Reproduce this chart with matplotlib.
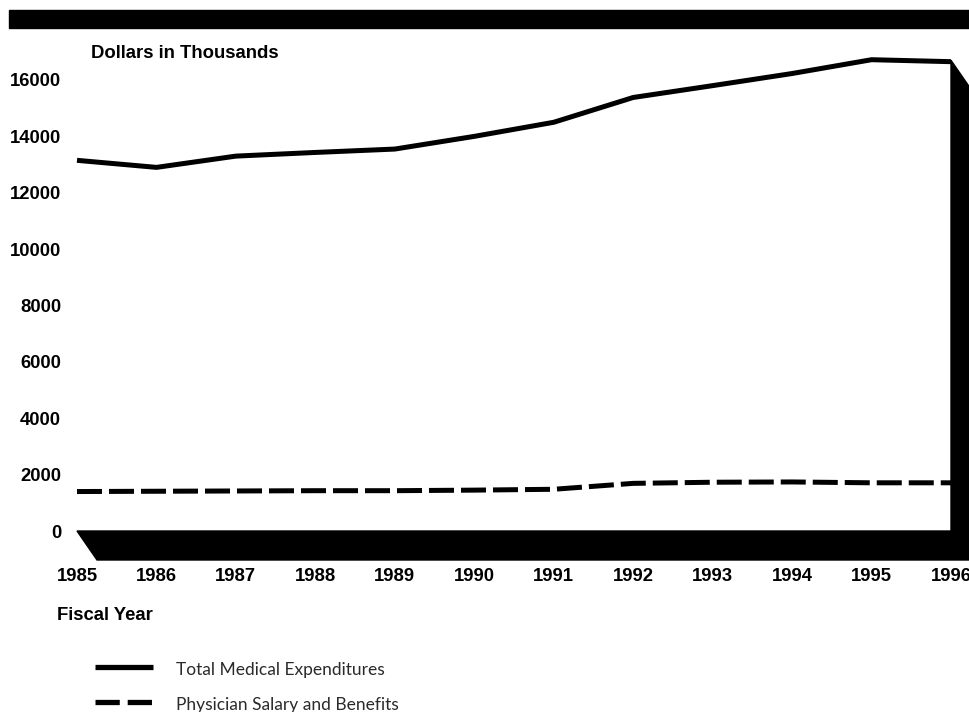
import matplotlib
matplotlib.use('Agg')
import matplotlib.pyplot as plt
from matplotlib.patches import Rectangle, Polygon
from matplotlib.lines import Line2D

# data
years = [1985, 1986, 1987, 1988, 1989, 1990, 1991, 1992, 1993, 1994, 1995, 1996]
total_medical = [13150, 12900, 13300, 13430, 13550, 14000, 14500, 15380, 15800, 16230, 16720, 16650]
physician = [1400, 1410, 1420, 1430, 1430, 1450, 1480, 1690, 1730, 1740, 1710, 1710]
y_ticks = [0, 2000, 4000, 6000, 8000, 10000, 12000, 14000, 16000]
series_labels = ['Total Medical Expenditures', 'Physician Salary and Benefits']

W, H = 970, 712
fig = plt.figure(figsize=(W / 100, H / 100), dpi=100)


def fx(px):
    return px / W


def fy(py):
    return (H - py) / H


# plot area in pixels: 1985 -> 77, 1996 -> 951, 0 -> 531, 16000 -> 80
left, right, top, bottom = 77, 951, 80, 531
ax = fig.add_axes([fx(left), fy(bottom), fx(right - left), (bottom - top) / H])
ax.set_xlim(years[0], years[-1])
ax.set_ylim(0, 16000)
for s in ax.spines.values():
    s.set_visible(False)

lw = 3.6
ax.plot(years, total_medical, color='black', lw=lw, solid_joinstyle='round',
        solid_capstyle='butt', zorder=3, clip_on=False)
ax.plot(years, physician, color='black', lw=lw, linestyle=(0, (5.0, 1.4)),
        dash_capstyle='butt', zorder=3, clip_on=False)

bold = dict(family='Liberation Sans', weight='bold', size=13.3)
ax.set_xticks(years)
ax.set_xticklabels([str(y) for y in years], fontdict=bold)
ax.set_yticks(y_ticks)
ax.set_yticklabels([str(v) for v in y_ticks], fontdict=bold)
ax.tick_params(axis='x', length=0, pad=26.5)
ax.tick_params(axis='y', length=0, pad=11.5)

# 3D floor and right wall, depth offset in pixels
dpx, dpy = 20, 29
yr_per_px = (years[-1] - years[0]) / (right - left)
val_per_px = 16000 / (bottom - top)
ddx = dpx * yr_per_px
ddy = dpy * val_per_px
x0, x1 = years[0], years[-1]
wall_top = 16700
floor = Polygon([(x0, 0), (x1, 0), (x1 + ddx, -ddy), (x0 + ddx, -ddy)],
                closed=True, color='black', clip_on=False, zorder=2)
wall = Polygon([(x1, 0), (x1, wall_top), (x1 + ddx, wall_top - ddy), (x1 + ddx, -ddy)],
               closed=True, color='black', clip_on=False, zorder=2)
ax.add_patch(floor)
ax.add_patch(wall)

# top band
fig.patches.append(Rectangle((fx(9), fy(28)), fx(W - 9), 18 / H,
                             transform=fig.transFigure, color='black'))

fig.text(fx(91), fy(53), 'Dollars in Thousands', ha='left', va='center', **bold)
fig.text(fx(57), fy(615), 'Fiscal Year', ha='left', va='center', **bold)

# legend
leg_font = dict(family='Lato', weight='normal', size=12.5, color='#2a2a2a')
leg_y = [667, 702]
styles = ['-', (0, (4.6, 1.5))]
for i in range(len(series_labels)):
    fig.add_artist(Line2D([fx(95), fx(153)], [fy(leg_y[i]), fy(leg_y[i])],
                          transform=fig.transFigure, color='black', lw=3.8,
                          linestyle=styles[i], dash_capstyle='butt',
                          solid_capstyle='butt'))
    fig.text(fx(176), fy(leg_y[i] + 3), series_labels[i], ha='left',
             va='center', **leg_font)

fig.savefig('out.png', dpi=100)
